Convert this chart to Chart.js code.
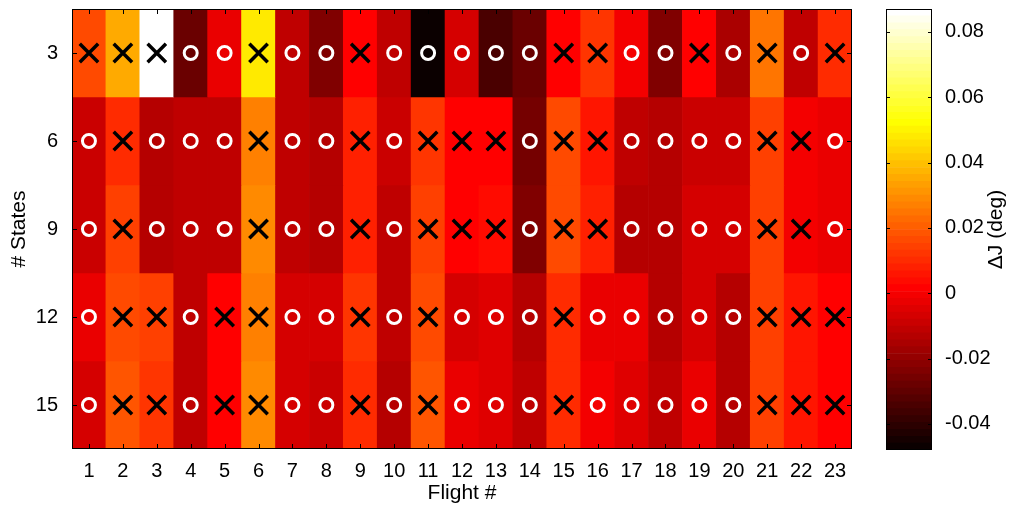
<!DOCTYPE html>
<html>
<head>
<meta charset="utf-8">
<script src="https://cdn.jsdelivr.net/npm/chart.js@4.4.1/dist/chart.umd.min.js"></script>
<style>
  html, body { margin: 0; padding: 0; background: #fff; }
  #wrap { position: relative; width: 1017px; height: 508px; overflow: hidden; }
  #main { position: absolute; left: 0; top: 0; }
  #cbar { position: absolute; left: 860px; top: 0; }
</style>
</head>
<body>
<div id="wrap">
  <canvas id="main" width="1017" height="508"></canvas>
  <canvas id="cbar" width="157" height="508"></canvas>
</div>
<script>
// Flights along x, number of states along y
const flights = ['1','2','3','4','5','6','7','8','9','10','11','12','13','14','15','16','17','18','19','20','21','22','23'];
const states = [3, 6, 9, 12, 15];

// Delta J (deg) per flight, one array per state count
const dJ3  = [0.017, 0.035, 0.087, -0.028, -0.003, 0.048, -0.011, -0.024, 0.002, -0.011, -0.047, -0.006, -0.034, -0.028, 0.002, 0.012, -0.001, -0.024, 0.001, -0.016, 0.025, -0.012, 0.011];
const dJ6  = [-0.008, 0.011, -0.013, -0.011, -0.011, 0.027, -0.011, -0.013, 0.008, -0.009, 0.013, 0.002, 0.002, -0.025, 0.017, 0.005, -0.011, -0.014, -0.008, -0.008, 0.014, 0.0003, -0.003];
const dJ9  = [-0.008, 0.014, -0.013, -0.011, -0.011, 0.029, -0.011, -0.013, 0.008, -0.011, 0.014, 0.002, 0.004, -0.024, 0.017, 0.008, -0.013, -0.013, -0.006, -0.007, 0.014, 0.0003, -0.003];
const dJ12 = [-0.003, 0.017, 0.014, -0.011, 0.001, 0.027, -0.006, -0.007, 0.013, -0.011, 0.017, -0.006, -0.005, -0.014, 0.010, -0.003, -0.003, -0.014, -0.006, -0.014, 0.014, 0.006, 0.001];
const dJ15 = [-0.006, 0.019, 0.013, -0.011, 0.001, 0.030, -0.006, -0.008, 0.010, -0.013, 0.019, -0.003, -0.005, -0.012, 0.010, -0.001, -0.005, -0.012, -0.003, -0.014, 0.014, 0.006, 0.001];

// Marker per cell: 'x' or 'o'
const mk3  = ['x','x','x','o','o','x','o','o','x','o','o','o','o','o','x','x','o','o','x','o','x','o','x'];
const mk6  = ['o','x','o','o','o','x','o','o','x','o','x','x','x','o','x','x','o','o','o','o','x','x','o'];
const mk9  = ['o','x','o','o','o','x','o','o','x','o','x','x','x','o','x','x','o','o','o','o','x','x','o'];
const mk12 = ['o','x','x','o','x','x','o','o','x','o','x','o','o','o','x','o','o','o','o','o','x','x','x'];
const mk15 = ['o','x','x','o','x','x','o','o','x','o','x','o','o','o','x','o','o','o','o','o','x','x','x'];

// Colour limits and colourbar ticks
const clim = [-0.048, 0.087];
const cbTicks = [-0.04, -0.02, 0, 0.02, 0.04, 0.06, 0.08];

const rows = [
  { s: 3,  v: dJ3,  m: mk3 },
  { s: 6,  v: dJ6,  m: mk6 },
  { s: 9,  v: dJ9,  m: mk9 },
  { s: 12, v: dJ12, m: mk12 },
  { s: 15, v: dJ15, m: mk15 }
];

// 64-level "hot" colormap
const NLEV = 64;
function hot(idx) {
  const n = 24;
  const r = Math.min(idx / n, 1);
  const g = Math.min(Math.max((idx - n) / n, 0), 1);
  const b = Math.max((idx - 2 * n) / (NLEV - 2 * n), 0);
  return 'rgb(' + Math.round(r * 255) + ',' + Math.round(g * 255) + ',' + Math.round(b * 255) + ')';
}
function colorOf(v) {
  let i = Math.floor((v - clim[0]) / (clim[1] - clim[0]) * NLEV) + 1;
  i = Math.max(1, Math.min(NLEV, i));
  return hot(i);
}

const FONT = "'Liberation Sans', Arial, Helvetica, sans-serif";
Chart.defaults.color = '#000';
Chart.defaults.font.family = FONT;

// Fixed axis thickness, no extra edge padding reserved for labels
function fixBox(w, h) {
  return s => {
    if (w != null) s.width = w;
    if (h != null) s.height = h;
    s.paddingTop = 0; s.paddingBottom = 0; s.paddingLeft = 0; s.paddingRight = 0;
  };
}

// Cells: one floating-bar dataset per row spanning the row height
const cellSets = rows.map(r => ({
  type: 'bar',
  order: 2,
  data: flights.map(() => [r.s - 1.5, r.s + 1.5]),
  backgroundColor: r.v.map(colorOf),
  borderWidth: 0,
  grouped: false,
  barPercentage: 1,
  categoryPercentage: 1
}));

// Markers
const crossPts = [], ringPts = [];
rows.forEach(r => r.m.forEach((k, i) => {
  (k === 'x' ? crossPts : ringPts).push({ x: flights[i], y: r.s });
}));
const markerSets = [
  { type: 'line', order: 1, showLine: false, data: crossPts, pointStyle: 'crossRot',
    pointRadius: 13, pointBorderWidth: 3.5, pointBorderColor: '#000', pointBackgroundColor: '#000' },
  { type: 'line', order: 1, showLine: false, data: ringPts, pointStyle: 'circle',
    pointRadius: 6.5, pointBorderWidth: 3, pointBorderColor: '#fff', pointBackgroundColor: 'rgba(0,0,0,0)' }
];

// Frame and inward tick marks for the heat map
const frameTicks = {
  id: 'frameTicks',
  afterDatasetsDraw(chart) {
    const { ctx, chartArea: a, scales: { x, y } } = chart;
    ctx.save();
    ctx.strokeStyle = '#000';
    ctx.lineWidth = 1;
    ctx.beginPath();
    x.ticks.forEach((t, i) => {
      const px = Math.round(x.getPixelForTick(i)) + 0.5;
      ctx.moveTo(px, a.top); ctx.lineTo(px, a.top + 5);
      ctx.moveTo(px, a.bottom); ctx.lineTo(px, a.bottom - 5);
    });
    y.ticks.forEach(t => {
      const py = Math.round(y.getPixelForValue(t.value)) + 0.5;
      ctx.moveTo(a.left, py); ctx.lineTo(a.left + 5, py);
      ctx.moveTo(a.right, py); ctx.lineTo(a.right - 5, py);
    });
    ctx.stroke();
    ctx.strokeRect(a.left + 0.5, a.top + 0.5, a.right - a.left - 1, a.bottom - a.top - 1);
    ctx.restore();
  }
};

new Chart(document.getElementById('main'), {
  type: 'bar',
  data: { labels: flights, datasets: [...markerSets, ...cellSets] },
  options: {
    responsive: false,
    animation: false,
    events: [],
    layout: { autoPadding: false, padding: { left: 0, top: 9, right: 165, bottom: 0 } },
    plugins: { legend: { display: false }, tooltip: { enabled: false } },
    scales: {
      x: {
        type: 'category',
        offset: true,
        grid: { display: false },
        border: { display: false },
        ticks: { font: { size: 20 }, padding: 2, maxRotation: 0, autoSkip: false },
        title: { display: true, text: 'Flight #', font: { size: 21 }, padding: { top: 0, bottom: 2 } },
        afterFit: fixBox(null, 59)
      },
      y: {
        type: 'linear',
        reverse: true,
        min: 1.5,
        max: 16.5,
        grid: { display: false },
        border: { display: false },
        ticks: { font: { size: 20 }, padding: 6 },
        afterBuildTicks: s => { s.ticks = states.map(v => ({ value: v })); },
        title: { display: true, text: '# States', font: { size: 21 }, padding: { top: 7, bottom: 0 } },
        afterFit: fixBox(72, null)
      }
    }
  },
  plugins: [frameTicks]
});

// Colourbar: one floating bar per colormap level
const step = (clim[1] - clim[0]) / NLEV;
const levelSets = [];
for (let k = 0; k < NLEV; k++) {
  levelSets.push({
    data: [[clim[0] + k * step, clim[0] + (k + 1) * step]],
    backgroundColor: hot(k + 1),
    borderWidth: 0,
    grouped: false,
    barPercentage: 1,
    categoryPercentage: 1
  });
}

const cbarDecor = {
  id: 'cbarDecor',
  afterDatasetsDraw(chart) {
    const { ctx, chartArea: a, scales: { y } } = chart;
    ctx.save();
    ctx.strokeStyle = '#000';
    ctx.lineWidth = 1;
    ctx.beginPath();
    y.ticks.forEach(t => {
      const py = Math.round(y.getPixelForValue(t.value)) + 0.5;
      ctx.moveTo(a.left, py); ctx.lineTo(a.left + 4, py);
      ctx.moveTo(a.right, py); ctx.lineTo(a.right - 4, py);
    });
    ctx.stroke();
    ctx.strokeRect(a.left + 0.5, a.top + 0.5, a.right - a.left - 1, a.bottom - a.top - 1);
    // axis label, reading bottom to top
    ctx.translate(136, (a.top + a.bottom) / 2);
    ctx.rotate(-Math.PI / 2);
    ctx.fillStyle = '#000';
    ctx.font = '21px ' + FONT;
    ctx.textAlign = 'center';
    ctx.textBaseline = 'middle';
    ctx.fillText('\u0394J (deg)', 0, 0);
    ctx.restore();
  }
};

new Chart(document.getElementById('cbar'), {
  type: 'bar',
  data: { labels: [''], datasets: levelSets },
  options: {
    responsive: false,
    animation: false,
    events: [],
    layout: { autoPadding: false, padding: { left: 26, top: 9, right: 0, bottom: 58 } },
    plugins: { legend: { display: false }, tooltip: { enabled: false } },
    scales: {
      x: { type: 'category', display: false, offset: true },
      y: {
        type: 'linear',
        position: 'right',
        min: clim[0],
        max: clim[1],
        grid: { display: false },
        border: { display: false },
        ticks: {
          font: { size: 20 },
          padding: 5,
          callback: v => (Math.abs(v) < 1e-9 ? '0' : v.toFixed(2))
        },
        afterBuildTicks: s => { s.ticks = cbTicks.map(v => ({ value: v })); },
        afterFit: fixBox(85, null)
      }
    }
  },
  plugins: [cbarDecor]
});
</script>
</body>
</html>
